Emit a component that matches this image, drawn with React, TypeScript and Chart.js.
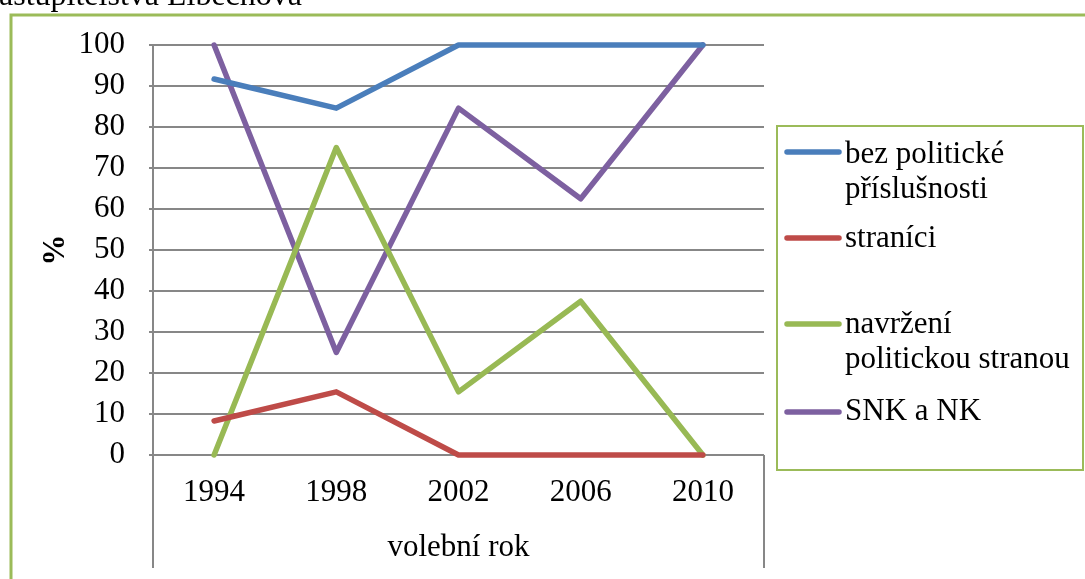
import React, { useEffect, useRef } from "react";
import { Chart, registerables } from "chart.js";

Chart.register(...registerables);

const categories = ["1994", "1998", "2002", "2006", "2010"];
const seriesNames = [
  ["bez politické", "příslušnosti"],
  ["straníci"],
  ["navržení", "politickou stranou"],
  ["SNK a NK"],
];
const bezPoliticke = [91.7, 84.6, 100, 100, 100];
const stranici = [8.3, 15.4, 0, 0, 0];
const navrzeni = [0, 75, 15.4, 37.5, 0];
const snkNk = [100, 25, 84.6, 62.5, 100];
const seriesColors = ["#4A7EBB", "#BE4B48", "#98B954", "#7D60A0"];
const yTicks = [0, 10, 20, 30, 40, 50, 60, 70, 80, 90, 100];
const topText = "zastupitelstva Libečnova";
const xTitle = "volební rok";
const yTitle = "%";

const FONT = "'Liberation Serif', 'Times New Roman', serif";
const GRID = "#878787";
const LINE_W = 5.5;

const decorPlugin = {
  id: "decor",
  beforeDraw(chart: any) {
    const ctx = chart.ctx;
    const ca = chart.chartArea;
    ctx.save();
    // outer green frame (partially cropped)
    ctx.strokeStyle = "#9BBB59";
    ctx.lineWidth = 3;
    ctx.beginPath();
    ctx.moveTo(11, chart.height + 2);
    ctx.lineTo(11, 15);
    ctx.lineTo(chart.width + 2, 15);
    ctx.stroke();
    // cropped caption text
    ctx.fillStyle = "#000";
    ctx.font = `32px ${FONT}`;
    ctx.textAlign = "left";
    ctx.textBaseline = "alphabetic";
    const zw = ctx.measureText("z").width;
    ctx.fillText(topText, -zw - 1, 5);
    // axis box extension lines below category axis
    ctx.strokeStyle = GRID;
    ctx.lineWidth = 2;
    ctx.beginPath();
    ctx.moveTo(ca.left, ca.bottom);
    ctx.lineTo(ca.left, 568);
    ctx.moveTo(ca.right, ca.bottom);
    ctx.lineTo(ca.right, 568);
    ctx.stroke();
    ctx.restore();
  },
  afterDraw(chart: any) {
    const ctx = chart.ctx;
    ctx.save();
    ctx.strokeStyle = "#9BBB59";
    ctx.lineWidth = 2;
    ctx.strokeRect(777, 126, 306, 344);
    const sampleY = [152, 238, 324, 412];
    const baselines = [[163, 198], [247], [333, 368], [420]];
    ctx.font = `31px ${FONT}`;
    ctx.textAlign = "left";
    ctx.textBaseline = "alphabetic";
    chart.data.datasets.forEach((ds: any, i: number) => {
      ctx.strokeStyle = ds.borderColor;
      ctx.lineWidth = LINE_W;
      ctx.lineCap = "round";
      ctx.beginPath();
      ctx.moveTo(787, sampleY[i]);
      ctx.lineTo(839, sampleY[i]);
      ctx.stroke();
      ctx.fillStyle = "#000";
      seriesNames[i].forEach((line, j) => {
        ctx.fillText(line, 845, baselines[i][j]);
      });
    });
    ctx.restore();
  },
};

export default function App() {
  const ref = useRef<HTMLCanvasElement>(null);
  useEffect(() => {
    if (!ref.current) return;
    const values = [bezPoliticke, stranici, navrzeni, snkNk];
    const chart = new Chart(ref.current, {
      type: "line",
      data: {
        labels: categories,
        datasets: values.map((v, i) => ({
          label: seriesNames[i].join(" "),
          data: v,
          borderColor: seriesColors[i],
          backgroundColor: seriesColors[i],
          borderWidth: LINE_W,
          pointRadius: 0,
          tension: 0,
          borderJoinStyle: "round" as const,
          borderCapStyle: "round" as const,
          clip: false as any,
        })),
      },
      options: {
        responsive: false,
        animation: false,
        devicePixelRatio: 1,
        layout: { padding: { left: 0, top: 45, right: 321, bottom: 0 } },
        plugins: {
          legend: { display: false },
          tooltip: { enabled: false },
        },
        scales: {
          x: {
            type: "category",
            offset: true,
            grid: { display: false, drawTicks: false },
            border: { display: false },
            ticks: {
              color: "#000",
              font: { family: FONT, size: 31 },
              padding: 19,
              maxRotation: 0,
            },
            title: {
              display: true,
              text: xTitle,
              color: "#000",
              font: { family: FONT, size: 31 },
              padding: { top: 0, bottom: 13 },
            },
            afterFit(scale: any) {
              scale.height = 124;
            },
          },
          y: {
            min: 0,
            max: 100,
            afterBuildTicks(scale: any) {
              scale.ticks = yTicks.map((v) => ({ value: v }));
            },
            grid: {
              color: GRID,
              lineWidth: 2,
              drawTicks: true,
              tickLength: 4,
            },
            border: { display: true, color: GRID, width: 2 },
            ticks: {
              color: "#000",
              font: { family: FONT, size: 31 },
              padding: 24,
            },
            title: {
              display: true,
              text: yTitle,
              color: "#000",
              font: { family: FONT, size: 31, weight: "bold" },
              padding: { top: 37, bottom: 0 },
            },
            afterFit(scale: any) {
              scale.width = 153;
            },
          },
        },
      },
      plugins: [decorPlugin],
    });
    return () => chart.destroy();
  }, []);
  return (
    <div style={{ position: "fixed", left: 0, top: 0, width: 1085, height: 579, background: "#fff" }}>
      <canvas ref={ref} width={1085} height={579} style={{ display: "block", width: 1085, height: 579 }} />
    </div>
  );
}
